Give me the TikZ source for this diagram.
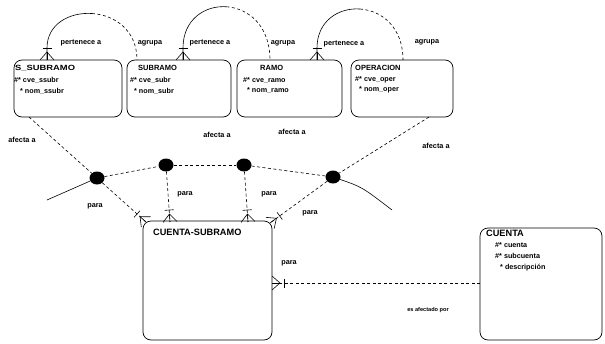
\documentclass[tikz,border=0pt]{standalone}
\usepackage{fontspec}
\setmainfont{Liberation Sans}
\usetikzlibrary{calc,shapes.geometric}
\newcommand\crowft[2]{%
  \draw[foot] ($(#1)!7pt!90:(#2)$) -- ($(#1)!8pt!(#2)$) -- ($(#1)!7pt!-90:(#2)$);
  \draw[foot] (#1) -- ($(#1)!8pt!(#2)$);
  \coordinate (tmpT) at ($(#1)!12pt!(#2)$);
  \draw[foot] ($(tmpT)!4.5pt!90:(#2)$) -- ($(tmpT)!4.5pt!-90:(#2)$);
}
\begin{document}
\begin{tikzpicture}[x=1pt,y=-1pt,
  ent/.style={draw, line width=0.7pt, rounded corners=8pt, inner sep=0pt},
  ttl/.style={anchor=west, inner sep=0pt, font=\bfseries\fontsize{7.5}{8}\selectfont},
  bigttl/.style={anchor=west, inner sep=0pt, font=\bfseries\fontsize{9.2}{10}\selectfont},
  att/.style={anchor=west, inner sep=0pt, font=\bfseries\fontsize{7.2}{8}\selectfont},
  lab/.style={inner sep=0pt, font=\bfseries\fontsize{7.3}{8}\selectfont},
  smalllab/.style={inner sep=0pt, font=\bfseries\fontsize{5.6}{7}\selectfont},
  rel/.style={line width=0.6pt},
  dsh/.style={dash pattern=on 3pt off 2.5pt},
  foot/.style={line width=0.6pt},
  dot/.style={ellipse, fill=black, minimum width=15pt, minimum height=13pt, inner sep=0pt}
]
\useasboundingbox (0,0) rectangle (605,343);

% entities
\node[ent, minimum width=108pt, minimum height=57pt] (ss) at (68,88.5) {};
\node[ent, minimum width=104pt, minimum height=57pt] (sb) at (179,88.5) {};
\node[ent, minimum width=105pt, minimum height=57pt] (ra) at (289.5,88.5) {};
\node[ent, minimum width=102pt, minimum height=57pt] (op) at (402,88.5) {};
\node[ent, minimum width=129pt, minimum height=119pt] (cs) at (207.5,280.5) {};
\node[ent, minimum width=122pt, minimum height=112pt] (cu) at (541,284) {};

% entity texts
\node[ttl] (ssT) at (15,68) {\scalebox{1.25}[1]{S\_SUBRAMO}};
\node[att] (ssA) at (14,80) {\#* cve\_ssubr};
\node[att] (ssB) at (20,91) {* nom\_ssubr};
\node[ttl] (sbT) at (138,68) {SUBRAMO};
\node[att] (sbA) at (130,80) {\#* cve\_subr};
\node[att] (sbB) at (134,91) {* nom\_subr};
\node[ttl] (raT) at (260,68) {RAMO};
\node[att] (raA) at (243,80) {\#* cve\_ramo};
\node[att] (raB) at (247,90) {* nom\_ramo};
\node[ttl] (opT) at (355,68) {OPERACION};
\node[att] (opA) at (355,80) {\#* cve\_oper};
\node[att] (opB) at (359,90) {* nom\_oper};
\node[bigttl] (csT) at (153,232) {CUENTA-SUBRAMO};
\node[bigttl] (cuT) at (486,233) {CUENTA};
\node[att] (cuA) at (495,245) {\#* cuenta};
\node[att] (cuB) at (495,256) {\#* subcuenta};
\node[att] (cuC) at (500,268) {* descripción};

% recursive arcs
\coordinate (a1s) at (47,60);  \coordinate (a1e) at (137,60);
\coordinate (a2s) at (183,60); \coordinate (a2e) at (270,60);
\coordinate (a3s) at (317,60); \coordinate (a3e) at (403,60);
\draw[rel] (a1s) -- (47,48) .. controls (47,24) and (69.5,12) .. (92,13.5);
\draw[rel,dsh] (92,13.5) .. controls (114.5,15) and (137,30) .. (a1e);
\draw[rel] (a2s) -- (183,48) .. controls (183,19.5) and (204.75,5.25) .. (226.5,6.75);
\draw[rel,dsh] (226.5,6.75) .. controls (248.25,8.25) and (270,25.5) .. (a2e);
\draw[rel] (a3s) -- (317,48) .. controls (317,21) and (338.5,7.5) .. (360,9);
\draw[rel,dsh] (360,9) .. controls (381.5,10.5) and (403,27) .. (a3e);
\crowft{a1s}{47,30}
\crowft{a2s}{183,30}
\crowft{a3s}{317,30}

% arc dots
\node[dot] (c1) at (97,178) {};
\node[dot] (c2) at (166,165) {};
\node[dot] (c3) at (244,165) {};
\node[dot] (c4) at (333,177) {};
\coordinate (arcL) at (47,200);
\coordinate (arcR) at (392,210);
\draw[rel] (arcL) -- (c1);
\draw[rel,dsh] (c1) -- (c2);
\draw[rel,dsh] (c2) -- (c3);
\draw[rel,dsh] (c3) -- (c4);
\draw[rel] (c4) .. controls (362,187) .. (arcR);

% relationship lines
\coordinate (ssb) at (29,117);
\coordinate (opb) at (429,117);
\coordinate (cs1) at (146,222);
\coordinate (cs2) at (170,222);
\coordinate (cs3) at (248,222);
\coordinate (cs4) at (270,223);
\coordinate (csr) at (272,283);
\coordinate (cul) at (480,283);
\draw[rel,dsh] (ssb) -- (c1);
\draw[rel,dsh] (c1) -- (cs1);
\draw[rel,dsh] (c2) -- (cs2);
\draw[rel,dsh] (c3) -- (cs3);
\draw[rel,dsh] (opb) -- (c4);
\draw[rel,dsh] (c4) -- (cs4);
\draw[rel,dsh] (cul) -- (csr);
\crowft{cs1}{c1}
\crowft{cs2}{c2}
\crowft{cs3}{c3}
\crowft{cs4}{c4}
\crowft{csr}{cul}

% labels
\node[lab] (l1) at (81,43) {pertenece a};
\node[lab] (l2) at (150,43) {agrupa};
\node[lab] (l3) at (210,43) {pertenece a};
\node[lab] (l4) at (283,43) {agrupa};
\node[lab] (l5) at (344,44) {pertenece a};
\node[lab] (l6) at (427,42) {agrupa};
\node[lab] (l7) at (22,140) {afecta a};
\node[lab] (l8) at (217,135) {afecta a};
\node[lab] (l9) at (292,132) {afecta a};
\node[lab] (l10) at (436,146) {afecta a};
\node[lab] (l11) at (95,206) {para};
\node[lab] (l12) at (185,194) {para};
\node[lab] (l13) at (269,194) {para};
\node[lab] (l14) at (310,213) {para};
\node[lab] (l15) at (289,263) {para};
\node[smalllab] (l16) at (428,310) {es afectado por};
\end{tikzpicture}
\end{document}
